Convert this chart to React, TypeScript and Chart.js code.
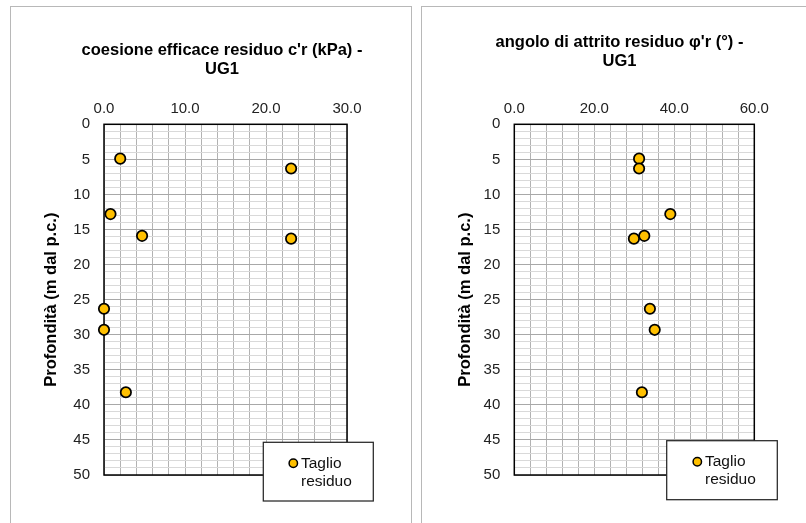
import { useEffect, useRef } from "react";
import { Chart, registerables } from "chart.js";

Chart.register(...registerables);

// Sample depths (m below ground level) shared by both profiles
const depths = [4.9, 6.3, 12.8, 15.9, 16.3, 26.3, 29.3, 38.2];
// Residual effective cohesion c'r (kPa)
const cohesion = [2.0, 23.1, 0.8, 4.7, 23.1, 0.0, 0.0, 2.7];
// Residual friction angle φ'r (°)
const friction = [31.2, 31.2, 39.0, 32.5, 29.9, 33.9, 35.1, 31.9];

const depthLabels = [0, 5, 10, 15, 20, 25, 30, 35, 40, 45, 50];
const cohesionLabels = [0, 10, 20, 30];
const frictionLabels = [0, 20, 40, 60];

const seriesName = ["Taglio", "residuo"];
const depthTitle = "Profondità (m dal p.c.)";
const cohesionTitle = ["coesione efficace residuo c'r (kPa) -", "UG1"];
const frictionTitle = ["angolo di attrito residuo φ'r (°) -", "UG1"];

const FONT = "'Liberation Sans', Arial, sans-serif";
const MARKER_FILL = "#FFC000";

type PanelSpec = {
  left: number;
  top: number;
  width: number;
  height: number;
  values: number[];
  xLabels: number[];
  xStep: number;
  title: string[];
  titleX: number;
  titleY: number;
  yTitleX: number;
  padding: { left: number; right: number; top: number; bottom: number };
  legend: { x: number; y: number; w: number; h: number; mx: number; my: number; tx: number };
};

const panels: PanelSpec[] = [
  {
    left: 11,
    top: 7,
    width: 400,
    height: 516,
    values: cohesion,
    xLabels: cohesionLabels,
    xStep: 2,
    title: cohesionTitle,
    titleX: 211,
    titleY: 48,
    yTitleX: 40,
    padding: { left: 33, right: 64, top: 87.3, bottom: 48 },
    legend: { x: 252.3, y: 435.3, w: 110, h: 58.7, mx: 282.3, my: 456.3, tx: 290 },
  },
  {
    left: 422,
    top: 7,
    width: 384,
    height: 516,
    values: friction,
    xLabels: frictionLabels,
    xStep: 4,
    title: frictionTitle,
    titleX: 197.5,
    titleY: 39.7,
    yTitleX: 43,
    padding: { left: 32.3, right: 51.7, top: 87.3, bottom: 48 },
    legend: { x: 244.7, y: 433.7, w: 110.6, h: 59, mx: 275.3, my: 454.7, tx: 283 },
  },
];

function makeDecor(spec: PanelSpec) {
  return {
    id: "panelDecor",
    beforeDatasetsDraw(chart: Chart) {
      const { ctx, chartArea: a } = chart;
      ctx.save();
      ctx.strokeStyle = "#000";
      ctx.lineWidth = 1.5;
      ctx.strokeRect(a.left, a.top, a.right - a.left, a.bottom - a.top);
      ctx.restore();
    },
    afterDraw(chart: Chart) {
      const { ctx, chartArea: a } = chart;
      ctx.save();
      // chart title
      ctx.fillStyle = "#000";
      ctx.font = `bold 16.5px ${FONT}`;
      ctx.textAlign = "center";
      ctx.textBaseline = "alphabetic";
      spec.title.forEach((line, i) => {
        ctx.fillText(line, spec.titleX, spec.titleY + i * 18.8);
      });
      // depth axis title
      ctx.save();
      ctx.translate(spec.yTitleX, (a.top + a.bottom) / 2);
      ctx.rotate(-Math.PI / 2);
      ctx.textBaseline = "middle";
      ctx.fillText(depthTitle, 0, 0);
      ctx.restore();
      // legend
      const L = spec.legend;
      ctx.fillStyle = "#fff";
      ctx.fillRect(L.x, L.y, L.w, L.h);
      ctx.strokeStyle = "#262626";
      ctx.lineWidth = 1.25;
      ctx.strokeRect(L.x, L.y, L.w, L.h);
      ctx.beginPath();
      ctx.arc(L.mx, L.my, 4.2, 0, Math.PI * 2);
      ctx.fillStyle = MARKER_FILL;
      ctx.fill();
      ctx.lineWidth = 1.5;
      ctx.strokeStyle = "#000";
      ctx.stroke();
      ctx.fillStyle = "#111";
      ctx.font = `15.5px ${FONT}`;
      ctx.textAlign = "left";
      ctx.textBaseline = "middle";
      seriesName.forEach((line, i) => {
        ctx.fillText(line, L.tx, L.my + i * 18.3);
      });
      ctx.restore();
    },
  };
}

function Panel({ spec }: { spec: PanelSpec }) {
  const ref = useRef<HTMLCanvasElement>(null);

  useEffect(() => {
    if (!ref.current) return;
    const xMax = spec.xLabels[spec.xLabels.length - 1];
    const yMax = depthLabels[depthLabels.length - 1];
    const chart = new Chart(ref.current, {
      type: "scatter",
      data: {
        datasets: [
          {
            label: seriesName.join(" "),
            data: spec.values.map((v, i) => ({ x: v, y: depths[i] })),
            pointRadius: 5.2,
            pointHoverRadius: 5.2,
            pointBorderWidth: 1.75,
            pointBorderColor: "#000",
            pointBackgroundColor: MARKER_FILL,
            showLine: false,
            clip: false,
          },
        ],
      },
      options: {
        animation: false,
        responsive: false,
        devicePixelRatio: 1,
        layout: { padding: spec.padding },
        plugins: {
          legend: { display: false },
          title: { display: false },
          tooltip: { enabled: false },
        },
        scales: {
          x: {
            type: "linear",
            position: "top",
            min: 0,
            max: xMax,
            afterFit: (s: any) => {
              s.height = 30;
            },
            border: { display: false },
            grid: {
              drawTicks: false,
              color: "#b2b2b2",
              lineWidth: 1,
            },
            ticks: {
              stepSize: spec.xStep,
              maxTicksLimit: 1000,
              autoSkip: false,
              maxRotation: 0,
              padding: 6,
              color: "#222",
              font: { family: FONT, size: 15 },
              callback: (v: any) =>
                spec.xLabels.includes(Number(v)) ? Number(v).toFixed(1) : "",
            },
          },
          y: {
            type: "linear",
            reverse: true,
            min: 0,
            max: yMax,
            afterFit: (s: any) => {
              s.width = 60;
            },
            border: { display: false },
            grid: {
              drawTicks: false,
              lineWidth: 1,
              color: (c: any) =>
                c.tick && depthLabels.includes(c.tick.value) ? "#a8a8a8" : "#d9d9d9",
            },
            ticks: {
              stepSize: 1,
              maxTicksLimit: 1000,
              autoSkip: false,
              padding: 14,
              color: "#222",
              font: { family: FONT, size: 15 },
              callback: (v: any) => (depthLabels.includes(Number(v)) ? String(v) : ""),
            },
          },
        },
      },
      plugins: [makeDecor(spec)],
    } as any);
    return () => chart.destroy();
  }, [spec]);

  return (
    <canvas
      ref={ref}
      width={spec.width}
      height={spec.height}
      style={{
        position: "absolute",
        left: spec.left,
        top: spec.top,
        width: spec.width,
        height: spec.height,
      }}
    />
  );
}

export default function App() {
  return (
    <div
      style={{
        position: "fixed",
        left: 0,
        top: 0,
        width: 806,
        height: 523,
        overflow: "hidden",
        background: "#fff",
      }}
    >
      <div
        style={{
          position: "absolute",
          left: 10,
          top: 6,
          width: 402,
          height: 600,
          boxSizing: "border-box",
          border: "1px solid #b8b8b8",
        }}
      />
      <div
        style={{
          position: "absolute",
          left: 421,
          top: 6,
          width: 398,
          height: 600,
          boxSizing: "border-box",
          border: "1px solid #b8b8b8",
        }}
      />
      {panels.map((p, i) => (
        <Panel key={i} spec={p} />
      ))}
    </div>
  );
}
